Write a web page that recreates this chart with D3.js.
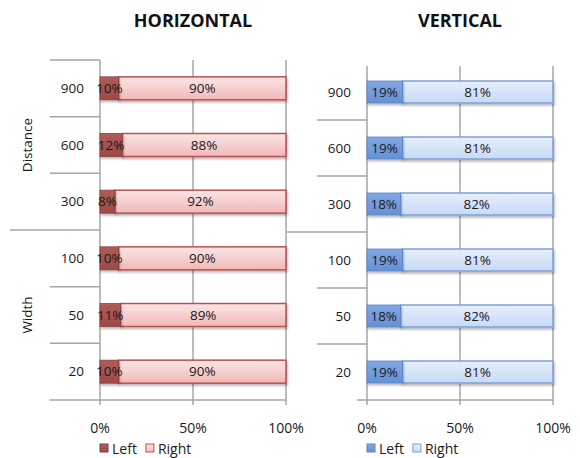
<!DOCTYPE html>
<html>
<head>
<meta charset="utf-8">
<script src="https://cdn.jsdelivr.net/npm/d3@7"></script>
<style>
html,body{margin:0;padding:0;background:#fff;}
svg{display:block;font-family:"Open Sans",sans-serif;}
</style>
</head>
<body>
<svg id="chart" width="580" height="458"></svg>
<script>
const categories = ["900","600","300","100","50","20"];
const groupNames = ["Distance","Width"];
const groupOf = ["Distance","Distance","Distance","Width","Width","Width"];
const seriesNames = ["Left","Right"];
const horizLeft = [10,12,8,10,11,10];
const horizRight = [90,88,92,90,89,90];
const vertLeft = [19,19,18,19,18,19];
const vertRight = [81,81,82,81,82,81];
const tickValues = [0,50,100];

const svg = d3.select("#chart");
const defs = svg.append("defs");

defs.append("filter").attr("id","shadow").attr("x","-10%").attr("y","-30%").attr("width","130%").attr("height","180%")
  .append("feDropShadow").attr("dx",1).attr("dy",2).attr("stdDeviation",1.2)
  .attr("flood-color","#000").attr("flood-opacity",0.28);

function grad(id, c1, c2){
  const g = defs.append("linearGradient").attr("id",id).attr("x1",0).attr("y1",0).attr("x2",0).attr("y2",1);
  g.append("stop").attr("offset","0%").attr("stop-color",c1);
  g.append("stop").attr("offset","100%").attr("stop-color",c2);
}
grad("hL","#ad5d5a","#9c4a47");
grad("hR","#fbe6e6","#f0b8b7");
grad("vL","#82a8e2","#6690d4");
grad("vR","#e6eefc","#c8daf6");

const gridColor = "#a6a6a6";
const textColor = "#1a1a1a";

function panel(cfg){
  const g = svg.append("g");
  const x = d3.scaleLinear().domain([0,100]).range([cfg.x0, cfg.x1]);
  const y = d3.scaleBand().domain(categories).range([cfg.yTop, cfg.yBot]);
  const bh = cfg.barH;

  g.append("text").attr("x",(cfg.x0+cfg.x1)/2).attr("y",27).attr("text-anchor","middle")
    .attr("font-size",18).attr("font-weight","bold").attr("fill","#111").text(cfg.title);

  g.selectAll(".grid").data(tickValues).enter().append("line")
    .attr("x1",d=>x(d)).attr("x2",d=>x(d)).attr("y1",cfg.gridTop).attr("y2",cfg.yBot+5)
    .attr("stroke",gridColor).attr("stroke-width",1.5);

  categories.forEach((c,i)=>{
    if(i===0 && !cfg.topLine) return;
    const isGroupStart = i>0 && groupOf[i]!==groupOf[i-1];
    g.append("line").attr("x1", isGroupStart ? cfg.groupLineX : cfg.catLineX).attr("x2",cfg.x0)
      .attr("y1",y(c)).attr("y2",y(c)).attr("stroke",gridColor).attr("stroke-width",1.5);
  });
  g.append("line").attr("x1",cfg.bottomLineX).attr("x2",cfg.x1).attr("y1",cfg.yBot).attr("y2",cfg.yBot)
    .attr("stroke",gridColor).attr("stroke-width",1.5);

  g.selectAll(".tick").data(tickValues).enter().append("text")
    .attr("x",d=>x(d)).attr("y",433).attr("text-anchor","middle").attr("font-size",14).attr("fill",textColor)
    .text(d=>d+"%");

  g.selectAll(".cat").data(categories).enter().append("text")
    .attr("x",cfg.catLabelX).attr("y",d=>y(d)+y.bandwidth()/2+4.5).attr("text-anchor","end")
    .attr("font-size",13.5).attr("fill",textColor).text(d=>d);

  if(cfg.groupLabels){
    groupNames.forEach(name=>{
      const idx = categories.filter((c,i)=>groupOf[i]===name);
      const top = y(idx[0]), bot = y(idx[idx.length-1]) + y.bandwidth();
      const cy = (top+bot)/2;
      g.append("text").attr("transform",`translate(32,${cy}) rotate(-90)`).attr("text-anchor","middle")
        .attr("font-size",13.5).attr("fill",textColor).text(name);
    });
  }

  const rows = categories.map((c,i)=>({c, l:cfg.left[i], r:cfg.right[i]}));
  rows.forEach(d=>{
    const yc = y(d.c)+y.bandwidth()/2;
    const yb = yc - bh/2;
    g.append("rect").attr("x",x(d.l)).attr("y",yb).attr("width",x(100)-x(d.l)).attr("height",bh)
      .attr("fill",`url(#${cfg.gR})`).attr("stroke",cfg.sR).attr("stroke-width",1.5).attr("filter","url(#shadow)");
    g.append("rect").attr("x",x(0)).attr("y",yb).attr("width",x(d.l)-x(0)).attr("height",bh)
      .attr("fill",`url(#${cfg.gL})`).attr("stroke",cfg.sL).attr("stroke-width",0.8).attr("filter","url(#shadow)");
    g.append("text").attr("x",(x(0)+x(d.l))/2).attr("y",yc+4.5).attr("text-anchor","middle")
      .attr("font-size",13.5).attr("fill",textColor).text(d.l+"%");
    g.append("text").attr("x",(x(d.l)+x(100))/2).attr("y",yc+4.5).attr("text-anchor","middle")
      .attr("font-size",13.5).attr("fill",textColor).text(d.r+"%");
  });

  const lg = g.append("g");
  const items = [{n:seriesNames[0], f:`url(#${cfg.gL})`, s:cfg.sL},{n:seriesNames[1], f:`url(#${cfg.gR})`, s:cfg.sR}];
  let lx = cfg.legendX;
  items.forEach(it=>{
    lg.append("rect").attr("x",lx).attr("y",444).attr("width",8).attr("height",8)
      .attr("fill",it.f).attr("stroke",it.s).attr("stroke-width",1);
    const t = lg.append("text").attr("x",lx+12).attr("y",454).attr("font-size",14).attr("fill",textColor).text(it.n);
    lx += 12 + t.node().getComputedTextLength() + 9;
  });
}

panel({title:"VERTICAL", x0:367, x1:553, yTop:64, yBot:400, gridTop:66, barH:22,
  left:vertLeft, right:vertRight, gL:"vL", gR:"vR", sL:"#5a84c6", sR:"#7ea2da",
  topLine:false, catLineX:317, groupLineX:287, bottomLineX:357, catLabelX:351,
  groupLabels:false, legendX:367});

panel({title:"HORIZONTAL", x0:100, x1:286, yTop:60, yBot:400, gridTop:60, barH:23,
  left:horizLeft, right:horizRight, gL:"hL", gR:"hR", sL:"#8e3f3c", sR:"#c0504d",
  topLine:true, catLineX:50, groupLineX:10, bottomLineX:50, catLabelX:84,
  groupLabels:true, legendX:100});
</script>
</body>
</html>
